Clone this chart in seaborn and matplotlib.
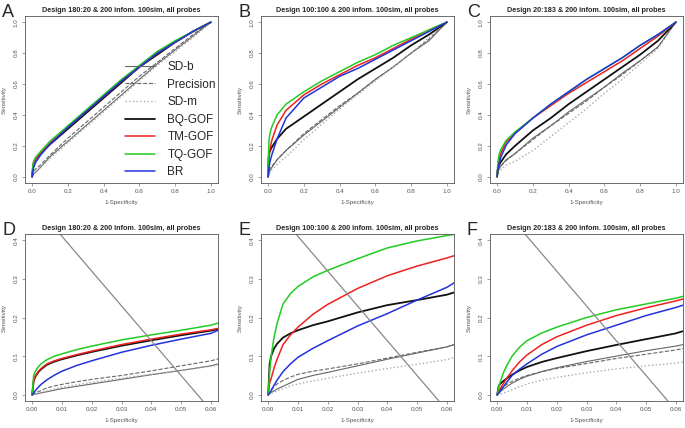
import numpy as np
import pandas as pd
import matplotlib
matplotlib.use("Agg")
import matplotlib.pyplot as plt
import seaborn as sns

sns.set_style("white")
plt.rcParams["font.family"] = ["Liberation Sans", "DejaVu Sans"]

# ── data ──────────────────────────────────────────────────────
methods = ["SD-b", "Precision", "SD-m", "BQ-GOF", "TM-GOF", "TQ-GOF", "BR"]

fpr_full = [0, 0.002, 0.005, 0.01, 0.02, 0.05, 0.1, 0.2, 0.3, 0.4, 0.5, 0.6, 0.7, 0.8, 0.9, 1.0]
fpr_zoom = [0, 0.0005, 0.001, 0.002, 0.003, 0.005, 0.0075, 0.01, 0.015, 0.02, 0.03, 0.04, 0.05, 0.06, 0.0625]

sens_A = {
    "SD-b":      [0, 0.005, 0.01, 0.018, 0.03, 0.065, 0.13, 0.23, 0.33, 0.43, 0.53, 0.63, 0.73, 0.82, 0.91, 1.0],
    "Precision": [0, 0.015, 0.025, 0.04, 0.05, 0.08, 0.14, 0.25, 0.35, 0.45, 0.55, 0.65, 0.74, 0.83, 0.92, 1.0],
    "SD-m":      [0, 0.004, 0.01, 0.022, 0.034, 0.065, 0.12, 0.22, 0.32, 0.42, 0.52, 0.62, 0.72, 0.81, 0.90, 1.0],
    "BQ-GOF":    [0, 0.03, 0.07, 0.095, 0.115, 0.157, 0.21, 0.31, 0.41, 0.51, 0.61, 0.71, 0.79, 0.87, 0.94, 1.0],
    "TM-GOF":    [0, 0.03, 0.075, 0.095, 0.115, 0.158, 0.22, 0.32, 0.42, 0.52, 0.62, 0.71, 0.80, 0.87, 0.94, 1.0],
    "TQ-GOF":    [0, 0.04, 0.085, 0.105, 0.127, 0.167, 0.23, 0.33, 0.43, 0.53, 0.63, 0.72, 0.81, 0.88, 0.94, 1.0],
    "BR":        [0, 0.025, 0.045, 0.065, 0.095, 0.145, 0.21, 0.32, 0.42, 0.52, 0.62, 0.71, 0.80, 0.87, 0.94, 1.0],
}
sens_B = {
    "SD-b":      [0, 0.01, 0.02, 0.04, 0.06, 0.11, 0.17, 0.27, 0.36, 0.45, 0.54, 0.63, 0.71, 0.80, 0.88, 1.0],
    "Precision": [0, 0.025, 0.035, 0.055, 0.068, 0.11, 0.17, 0.28, 0.37, 0.46, 0.54, 0.63, 0.71, 0.80, 0.89, 1.0],
    "SD-m":      [0, 0.005, 0.015, 0.03, 0.045, 0.08, 0.13, 0.24, 0.34, 0.44, 0.53, 0.62, 0.71, 0.80, 0.90, 1.0],
    "BQ-GOF":    [0, 0.12, 0.148, 0.167, 0.19, 0.245, 0.31, 0.39, 0.47, 0.55, 0.63, 0.70, 0.77, 0.85, 0.92, 1.0],
    "TM-GOF":    [0, 0.07, 0.13, 0.175, 0.234, 0.335, 0.43, 0.53, 0.60, 0.66, 0.72, 0.77, 0.83, 0.89, 0.95, 1.0],
    "TQ-GOF":    [0, 0.15, 0.235, 0.28, 0.322, 0.40, 0.47, 0.55, 0.62, 0.68, 0.74, 0.79, 0.85, 0.90, 0.95, 1.0],
    "BR":        [0, 0.025, 0.06, 0.097, 0.14, 0.245, 0.38, 0.51, 0.58, 0.65, 0.70, 0.76, 0.82, 0.88, 0.94, 1.0],
}
sens_C = {
    "SD-b":      [0, 0.02, 0.035, 0.05, 0.07, 0.11, 0.15, 0.25, 0.33, 0.42, 0.50, 0.58, 0.67, 0.75, 0.84, 1.0],
    "Precision": [0, 0.025, 0.04, 0.05, 0.068, 0.105, 0.15, 0.24, 0.33, 0.41, 0.49, 0.58, 0.66, 0.75, 0.84, 1.0],
    "SD-m":      [0, 0.008, 0.015, 0.03, 0.045, 0.075, 0.10, 0.17, 0.26, 0.35, 0.44, 0.54, 0.63, 0.73, 0.83, 1.0],
    "BQ-GOF":    [0, 0.035, 0.055, 0.075, 0.095, 0.145, 0.20, 0.30, 0.38, 0.47, 0.55, 0.63, 0.71, 0.79, 0.88, 1.0],
    "TM-GOF":    [0, 0.035, 0.07, 0.105, 0.15, 0.225, 0.28, 0.38, 0.46, 0.54, 0.61, 0.68, 0.75, 0.83, 0.91, 1.0],
    "TQ-GOF":    [0, 0.06, 0.10, 0.14, 0.175, 0.235, 0.29, 0.38, 0.47, 0.55, 0.63, 0.70, 0.77, 0.85, 0.92, 1.0],
    "BR":        [0, 0.03, 0.05, 0.08, 0.125, 0.205, 0.28, 0.38, 0.47, 0.55, 0.63, 0.70, 0.77, 0.85, 0.92, 1.0],
}
sens_D = {
    "SD-b":      [0, 0.001, 0.002, 0.003, 0.005, 0.008, 0.012, 0.016, 0.022, 0.028, 0.04, 0.052, 0.063, 0.075, 0.08],
    "Precision": [0, 0.003, 0.005, 0.008, 0.011, 0.018, 0.023, 0.027, 0.034, 0.04, 0.05, 0.062, 0.075, 0.088, 0.093],
    "SD-m":      [0, 0.001, 0.002, 0.004, 0.006, 0.01, 0.015, 0.02, 0.026, 0.032, 0.043, 0.053, 0.063, 0.074, 0.077],
    "BQ-GOF":    [0, 0.035, 0.046, 0.058, 0.066, 0.078, 0.086, 0.092, 0.102, 0.111, 0.127, 0.141, 0.154, 0.166, 0.17],
    "TM-GOF":    [0, 0.037, 0.048, 0.06, 0.068, 0.08, 0.088, 0.094, 0.104, 0.113, 0.13, 0.144, 0.157, 0.168, 0.172],
    "TQ-GOF":    [0, 0.05, 0.06, 0.072, 0.08, 0.091, 0.10, 0.106, 0.117, 0.126, 0.142, 0.155, 0.167, 0.18, 0.186],
    "BR":        [0, 0.005, 0.01, 0.019, 0.027, 0.039, 0.051, 0.061, 0.076, 0.088, 0.11, 0.128, 0.144, 0.159, 0.167],
}
sens_E = {
    "SD-b":      [0, 0.003, 0.006, 0.01, 0.015, 0.022, 0.031, 0.04, 0.05, 0.058, 0.075, 0.092, 0.108, 0.124, 0.13],
    "Precision": [0, 0.008, 0.014, 0.022, 0.028, 0.037, 0.046, 0.053, 0.061, 0.067, 0.08, 0.095, 0.11, 0.124, 0.13],
    "SD-m":      [0, 0.002, 0.004, 0.007, 0.01, 0.016, 0.023, 0.028, 0.036, 0.043, 0.056, 0.068, 0.079, 0.091, 0.097],
    "BQ-GOF":    [0, 0.08, 0.10, 0.12, 0.132, 0.148, 0.159, 0.167, 0.18, 0.19, 0.213, 0.232, 0.245, 0.259, 0.265],
    "TM-GOF":    [0, 0.03, 0.042, 0.07, 0.092, 0.13, 0.155, 0.175, 0.208, 0.234, 0.275, 0.308, 0.333, 0.354, 0.36],
    "TQ-GOF":    [0, 0.06, 0.10, 0.15, 0.185, 0.235, 0.262, 0.28, 0.305, 0.322, 0.352, 0.38, 0.398, 0.412, 0.415],
    "BR":        [0, 0.005, 0.01, 0.025, 0.038, 0.06, 0.08, 0.097, 0.12, 0.14, 0.178, 0.21, 0.245, 0.278, 0.29],
}
sens_F = {
    "SD-b":      [0, 0.004, 0.008, 0.014, 0.02, 0.03, 0.04, 0.048, 0.06, 0.07, 0.086, 0.10, 0.114, 0.126, 0.13],
    "Precision": [0, 0.008, 0.013, 0.02, 0.026, 0.035, 0.043, 0.05, 0.06, 0.068, 0.081, 0.094, 0.105, 0.116, 0.12],
    "SD-m":      [0, 0.001, 0.002, 0.004, 0.007, 0.013, 0.021, 0.028, 0.038, 0.045, 0.057, 0.067, 0.075, 0.082, 0.085],
    "BQ-GOF":    [0, 0.022, 0.028, 0.035, 0.041, 0.052, 0.063, 0.072, 0.085, 0.095, 0.113, 0.129, 0.144, 0.159, 0.165],
    "TM-GOF":    [0, 0.008, 0.015, 0.028, 0.04, 0.062, 0.085, 0.103, 0.13, 0.15, 0.18, 0.205, 0.225, 0.243, 0.248],
    "TQ-GOF":    [0, 0.02, 0.032, 0.055, 0.072, 0.10, 0.123, 0.14, 0.16, 0.175, 0.20, 0.22, 0.235, 0.25, 0.255],
    "BR":        [0, 0.004, 0.009, 0.02, 0.03, 0.05, 0.066, 0.08, 0.105, 0.125, 0.155, 0.18, 0.205, 0.226, 0.232],
}

titles = ["Design 180:20 & 200 infom. 100sim, all probes",
          "Design 100:100 & 200 infom. 100sim, all probes",
          "Design 20:183 & 200 infom. 100sim, all probes"]
letters = ["A", "B", "C", "D", "E", "F"]

# reference line drawn on the zoomed panels
ref_intercept = 0.5
ref_slope = -9.0

# ── styles ────────────────────────────────────────────────────
styles = {
    "SD-b":      dict(color="#666666", ls="-",  lw=0.8),
    "Precision": dict(color="#666666", ls="--", lw=0.8),
    "SD-m":      dict(color="#aaaaaa", ls=":",  lw=1.0),
    "BQ-GOF":    dict(color="#111111", ls="-",  lw=1.3),
    "TM-GOF":    dict(color="#ee2020", ls="-",  lw=1.1),
    "TQ-GOF":    dict(color="#22cc22", ls="-",  lw=1.1),
    "BR":        dict(color="#2233dd", ls="-",  lw=1.1),
}

W, H = 685, 428
fig = plt.figure(figsize=(W / 100, H / 100), dpi=100)

col_left = [25, 261, 490]
box_w = 193
row_top = [16, 234]
box_h = 167

panels = [(fpr_full, sens_A), (fpr_full, sens_B), (fpr_full, sens_C),
          (fpr_zoom, sens_D), (fpr_zoom, sens_E), (fpr_zoom, sens_F)]

for i, (fpr, sens) in enumerate(panels):
    r, c = divmod(i, 3)
    ax = fig.add_axes([col_left[c] / W, 1 - (row_top[r] + box_h) / H, box_w / W, box_h / H])

    for m in methods:
        st = styles[m]
        sns.lineplot(x=fpr, y=sens[m], ax=ax, color=st["color"], linestyle=st["ls"],
                     lw=st["lw"], label=m if i == 0 else None, legend=False)

    if r == 0:
        ax.set_xlim(-0.04, 1.04)
        ax.set_ylim(-0.04, 1.04)
        ticks = [0, 0.2, 0.4, 0.6, 0.8, 1.0]
        ax.set_xticks(ticks)
        ax.set_yticks(ticks)
        ax.set_xticklabels([f"{t:.1f}" for t in ticks])
        ax.set_yticklabels([f"{t:.1f}" for t in ticks], rotation=90, va="center")
    else:
        ax.axline((0, ref_intercept), slope=ref_slope, color="#888888", lw=0.9)
        ax.set_xlim(-0.0024, 0.0624)
        ax.set_ylim(-0.016, 0.416)
        xt = [0, 0.01, 0.02, 0.03, 0.04, 0.05, 0.06]
        yt = [0, 0.1, 0.2, 0.3, 0.4]
        ax.set_xticks(xt)
        ax.set_yticks(yt)
        ax.set_xticklabels([f"{t:.2f}" for t in xt])
        ax.set_yticklabels([f"{t:.1f}" for t in yt], rotation=90, va="center")

    ax.tick_params(axis="both", labelsize=4.5, labelcolor="#555555", length=2.5,
                   width=0.5, color="#777777", pad=2, direction="out",
                   bottom=True, left=True)
    for sp in ax.spines.values():
        sp.set_color("#555555")
        sp.set_linewidth(0.6)
    ax.set_xlabel("1-Specificity", fontsize=4.5, color="#555555", labelpad=4)
    ax.set_ylabel("Sensitivity", fontsize=4.5, color="#555555", labelpad=5)
    ax.set_title(titles[c], fontsize=5.2, fontweight="bold", pad=3)
    fig.text((col_left[c] - 23) / W, 1 - (row_top[r] - 12) / H, letters[i],
             fontsize=13, va="top", ha="left")

    if i == 0:
        ax.legend(loc="upper left", bbox_to_anchor=(125 / W, 1 - 61 / H),
                  bbox_transform=fig.transFigure, frameon=False, fontsize=8.5,
                  handlelength=2.5, handletextpad=1.1, labelspacing=0.47,
                  borderpad=0, borderaxespad=0)

fig.savefig("out.png", dpi=100)
